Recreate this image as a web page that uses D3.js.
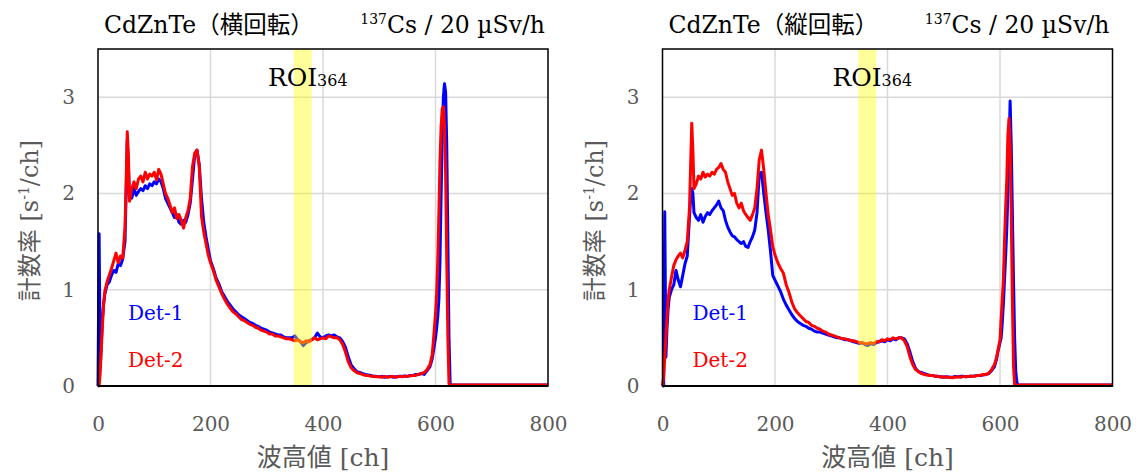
<!DOCTYPE html>
<html><head><meta charset="utf-8">
<script src="https://cdn.jsdelivr.net/npm/d3@7"></script>
<style>
body{margin:0;background:#fff;}
text{font-family:"DejaVu Serif","Noto Sans CJK JP",serif;font-weight:normal;}
</style></head>
<body><svg id="chart" width="1143" height="474"></svg>
<script>
const channels = [0,2,4,6,8,10,12,16,20,24,28,32,36,40,44,48,50,52,54,56,
60,64,68,72,76,80,84,88,92,96,100,104,108,112,116,120,124,128,132,136,140,144,148,152,156,160,164,168,172,176,180,184,188,192,196,200,
205,210,215,220,225,230,235,240,245,250,255,260,265,270,275,280,285,290,295,300,
305,310,315,320,325,330,335,340,345,350,355,360,365,370,375,380,385,390,395,400,
405,410,415,420,425,430,435,440,445,450,455,460,465,470,475,480,485,490,495,500,
505,510,515,520,525,530,535,540,545,550,555,560,565,570,575,580,585,590,
594,596,598,600,602,604,606,608,610,612,614,616,618,620,622,624,626,628,630,632,
640,660,680,700,720,740,760,780,800];

// 横回転 Det-1
const horizDet1 = [0,1.58,0.2,0.45,0.7,0.85,0.95,1.05,1.08,1.15,1.2,1.18,1.27,1.25,1.32,1.5,2.0,2.55,2.3,1.95,
1.95,2.05,1.98,2.02,2.05,2.03,2.08,2.05,2.1,2.08,2.12,2.1,2.15,2.12,2.05,1.95,1.9,1.85,1.8,1.75,
1.78,1.7,1.68,1.72,1.7,1.78,1.9,2.15,2.4,2.45,2.3,1.95,1.7,1.55,1.42,1.3,
1.22,1.12,1.06,0.98,0.93,0.88,0.84,0.8,0.77,0.74,
0.72,0.7,0.68,0.66,0.65,0.63,0.62,0.6,0.59,0.58,
0.56,0.55,0.54,0.53,0.53,0.51,0.5,0.5,0.5,0.52,
0.48,0.46,0.42,0.45,0.47,0.48,0.5,0.55,0.51,0.5,
0.52,0.53,0.52,0.53,0.51,0.5,0.46,0.4,0.3,0.22,
0.18,0.15,0.14,0.13,0.12,0.115,0.11,0.1,0.1,0.095,
0.1,0.09,0.095,0.1,0.09,0.095,0.1,0.1,0.105,0.1,
0.11,0.11,0.12,0.12,0.13,0.12,0.16,0.2,
0.28,0.35,0.42,0.5,0.6,0.72,0.9,1.3,2.0,2.6,3.0,3.14,3.05,2.5,1.5,0.5,0.03,0.01,0.01,0.01,
0.01,0.01,0.01,0.01,0.01,0.01,0.01,0.01,0.01];

// 横回転 Det-2
const horizDet2 = [0,0,0.15,0.4,0.65,0.85,0.98,1.08,1.15,1.22,1.3,1.38,1.28,1.35,1.33,1.65,2.1,2.64,2.4,1.92,
2.05,2.12,2.05,2.15,2.18,2.12,2.22,2.15,2.2,2.18,2.22,2.14,2.25,2.2,2.1,2.0,1.95,1.88,1.8,1.85,
1.74,1.78,1.72,1.64,1.75,1.82,1.95,2.28,2.42,2.45,2.28,1.76,1.6,1.48,1.36,1.28,
1.2,1.1,1.03,0.96,0.9,0.85,0.81,0.77,0.75,0.72,
0.69,0.68,0.66,0.64,0.63,0.61,0.6,0.58,0.57,0.56,
0.54,0.54,0.52,0.52,0.51,0.5,0.49,0.49,0.48,0.47,
0.48,0.46,0.45,0.47,0.46,0.48,0.5,0.48,0.49,0.5,
0.49,0.52,0.51,0.5,0.5,0.48,0.43,0.35,0.25,0.19,
0.16,0.14,0.13,0.12,0.11,0.11,0.1,0.1,0.095,0.095,
0.09,0.1,0.09,0.095,0.1,0.09,0.1,0.095,0.1,0.1,
0.105,0.11,0.11,0.12,0.13,0.14,0.17,0.22,
0.32,0.45,0.6,0.75,0.96,1.3,1.8,2.35,2.7,2.88,2.9,2.7,2.2,1.3,0.5,0.02,0.01,0.01,0.01,0.01,
0.01,0.01,0.01,0.01,0.01,0.01,0.01,0.01,0.01];

// 縦回転 Det-1
const vertDet1 = [0,0,1.81,0.3,0.6,0.8,0.92,1.0,1.05,1.2,1.1,1.03,1.15,1.27,1.35,1.75,1.95,2.05,2.0,1.8,
1.75,1.72,1.78,1.7,1.76,1.8,1.78,1.82,1.85,1.88,1.92,1.85,1.82,1.72,1.65,1.6,1.56,1.55,1.52,1.5,
1.48,1.5,1.45,1.44,1.5,1.55,1.62,1.8,2.2,2.22,2.0,1.8,1.62,1.4,1.15,1.1,
1.04,0.98,0.9,0.84,0.79,0.74,0.7,0.67,0.65,0.63,
0.62,0.6,0.59,0.57,0.56,0.56,0.55,0.54,0.53,0.52,
0.51,0.5,0.5,0.49,0.48,0.48,0.47,0.46,0.45,0.44,
0.45,0.43,0.42,0.44,0.43,0.45,0.46,0.47,0.46,0.48,
0.47,0.49,0.48,0.5,0.5,0.49,0.44,0.35,0.25,0.18,
0.15,0.14,0.13,0.12,0.11,0.11,0.1,0.1,0.095,0.09,
0.095,0.09,0.09,0.1,0.095,0.1,0.1,0.095,0.1,0.1,
0.105,0.11,0.11,0.115,0.12,0.13,0.16,0.2,
0.28,0.35,0.4,0.45,0.5,0.65,0.85,1.1,1.35,1.62,2.0,2.45,2.96,2.5,1.8,1.1,0.5,0.15,0.04,0.01,
0.01,0.01,0.01,0.01,0.01,0.01,0.01,0.01,0.01];

// 縦回転 Det-2
const vertDet2 = [0,0.1,0.3,0.5,0.7,0.9,1.0,1.13,1.25,1.31,1.35,1.38,1.33,1.41,1.5,1.85,2.3,2.73,2.45,2.05,
2.1,2.18,2.15,2.22,2.17,2.2,2.18,2.22,2.2,2.25,2.27,2.31,2.25,2.22,2.12,2.05,1.98,2.0,1.9,1.85,
1.9,1.82,1.78,1.75,1.72,1.78,1.85,2.05,2.35,2.45,2.25,2.0,1.78,1.62,1.45,1.36,
1.28,1.22,1.17,1.05,0.97,0.87,0.8,0.76,0.73,0.7,
0.67,0.66,0.63,0.62,0.6,0.59,0.57,0.56,0.54,0.53,
0.52,0.51,0.5,0.49,0.49,0.48,0.47,0.47,0.46,0.45,
0.45,0.44,0.44,0.45,0.44,0.46,0.46,0.48,0.47,0.49,
0.48,0.5,0.49,0.5,0.5,0.47,0.41,0.3,0.22,0.17,
0.15,0.13,0.12,0.115,0.11,0.11,0.1,0.1,0.09,0.095,
0.09,0.09,0.085,0.09,0.095,0.09,0.1,0.095,0.1,0.1,
0.1,0.11,0.11,0.12,0.12,0.13,0.17,0.22,
0.3,0.36,0.42,0.48,0.7,0.9,1.1,1.5,1.85,2.14,2.6,2.78,2.5,1.8,0.9,0.2,0.01,0.01,0.01,0.01,
0.01,0.01,0.01,0.01,0.01,0.01,0.01,0.01,0.01];

const xTicks = [0,200,400,600,800];
const yTicks = [0,1,2,3];
const panelTitles = ["CdZnTe（横回転）","CdZnTe（縦回転）"];
const seriesNames = ["Det-1","Det-2"];
const roiRange = [348,380];
const roiLabel = ["ROI","364"];

const svg = d3.select("#chart");
const panels = [
  {ox:98, title:panelTitles[0], d1:horizDet1, d2:horizDet2},
  {ox:662.5, title:panelTitles[1], d1:vertDet1, d2:vertDet2}
];
const W = 450, plotTop = 49, plotBottom = 386;
const grey = "#595959";

panels.forEach(p => {
  const x = d3.scaleLinear().domain([0,800]).range([p.ox, p.ox + W]);
  const y = d3.scaleLinear().domain([0,3.5]).range([plotBottom, plotTop]);
  const g = svg.append("g");

  // grid
  g.selectAll(".gx").data(xTicks.slice(1,-1)).join("line")
    .attr("x1", d=>x(d)).attr("x2", d=>x(d)).attr("y1", plotTop).attr("y2", plotBottom)
    .attr("stroke","#d9d9d9").attr("stroke-width",1.5);
  g.selectAll(".gy").data(yTicks.slice(1)).join("line")
    .attr("x1", x(0)).attr("x2", x(800)).attr("y1", d=>y(d)).attr("y2", d=>y(d))
    .attr("stroke","#d9d9d9").attr("stroke-width",1.5);

  const line = d3.line().x((d,i)=>x(channels[i])).y(d=>y(d));
  const pts1 = p.d1.slice(0, channels.length);
  const pts2 = p.d2.slice(0, channels.length);
  g.append("path").datum(pts1).attr("d", line).attr("fill","none")
    .attr("stroke","#0000ff").attr("stroke-width",3).attr("stroke-linejoin","round");
  g.append("path").datum(pts2).attr("d", line).attr("fill","none")
    .attr("stroke","#ff0000").attr("stroke-width",3).attr("stroke-linejoin","round");

  // ROI band
  g.append("rect").attr("x", x(roiRange[0])).attr("y", plotTop)
    .attr("width", x(roiRange[1]) - x(roiRange[0])).attr("height", plotBottom - plotTop)
    .attr("fill","#ffff00").attr("fill-opacity",0.4);

  // frame
  g.append("rect").attr("x", x(0)).attr("y", plotTop).attr("width", W).attr("height", plotBottom-plotTop)
    .attr("fill","none").attr("stroke","#000").attr("stroke-width",1.5);
  g.append("line").attr("x1", x(0)).attr("x2", x(800)).attr("y1", plotBottom).attr("y2", plotBottom)
    .attr("stroke","#000").attr("stroke-width",2.2);

  // axes labels using d3 axes (text only)
  const ax = g.append("g").attr("transform",`translate(0,${plotBottom})`)
    .call(d3.axisBottom(x).tickValues(xTicks).tickSize(0).tickPadding(31));
  ax.select(".domain").remove();
  ax.selectAll("text").attr("font-size",20).attr("fill",grey)
    .style("font-family","'DejaVu Serif',serif");
  const ay = g.append("g").attr("transform",`translate(${x(0)},0)`)
    .call(d3.axisLeft(y).tickValues(yTicks).tickFormat(d3.format("d")).tickSize(0).tickPadding(23));
  ay.select(".domain").remove();
  ay.selectAll("text").attr("font-size",20).attr("fill",grey)
    .style("font-family","'DejaVu Serif',serif");

  // titles
  g.append("text").attr("x", p.ox + 6).attr("y", 33).attr("font-size",23.5).attr("fill","#000")
    .text(p.title);
  const t2 = g.append("text").attr("x", p.ox + W - 3).attr("y", 33).attr("text-anchor","end")
    .attr("font-size",23.5).attr("fill","#000");
  t2.append("tspan").attr("font-size",14).attr("dy",-9).text("137");
  t2.append("tspan").attr("dy",9).text("Cs / 20 µSv/h");

  // ROI label
  const rl = g.append("text").attr("x", x(302)).attr("y", 86).attr("font-size",25).attr("fill","#000");
  rl.append("tspan").text(roiLabel[0]);
  rl.append("tspan").attr("font-size",16).text(roiLabel[1]);

  // legend texts
  g.append("text").attr("x", p.ox + 30).attr("y", 320).attr("font-size",20).attr("fill","#0000ff")
    .text(seriesNames[0]);
  g.append("text").attr("x", p.ox + 30).attr("y", 367).attr("font-size",20).attr("fill","#ff0000")
    .text(seriesNames[1]);

  // axis titles
  g.append("text").attr("x", p.ox + W/2).attr("y", 466).attr("text-anchor","middle")
    .attr("font-size",25).attr("fill",grey).text("波高値 [ch]");
  const yt = g.append("text").attr("transform",`translate(${p.ox - 60},${(plotTop+plotBottom)/2 + 3}) rotate(-90)`)
    .attr("text-anchor","middle").attr("font-size",24).attr("fill",grey);
  yt.append("tspan").text("計数率 [s");
  yt.append("tspan").attr("font-size",14).attr("dy",-9).text("-1");
  yt.append("tspan").attr("dy",9).text("/ch]");
});
</script></body></html>
